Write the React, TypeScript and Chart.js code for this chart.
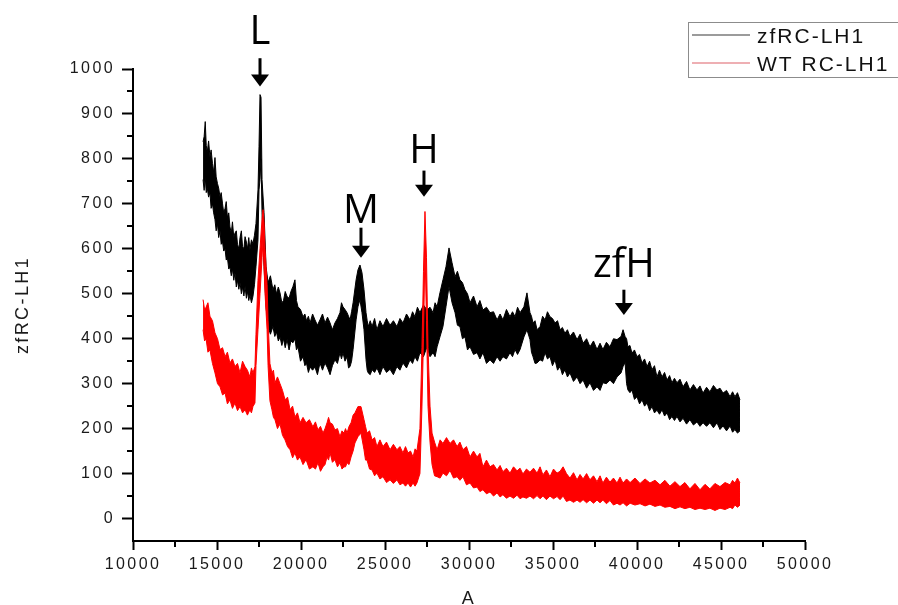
import { useEffect, useRef } from 'react';
import { Chart, registerables } from 'chart.js';

Chart.register(...registerables);

// ---- axis ticks ----
const xTicks = [10000, 15000, 20000, 25000, 30000, 35000, 40000, 45000, 50000];
const xMinorTicks = [12500, 17500, 22500, 27500, 32500, 37500, 42500, 47500];
const yTicks = [0, 100, 200, 300, 400, 500, 600, 700, 800, 900, 1000];
const yMinorTicks = [50, 150, 250, 350, 450, 550, 650, 750, 850, 950];

// ---- legend / titles ----
const seriesLabels = ['zfRC-LH1', 'WT RC-LH1'];
const xTitle = 'A';
const yTitle = 'zfRC-LH1';

// ---- peak annotations ----
const annotationLabels = ['L', 'M', 'H', 'zfH'];
const annotationX = [17560, 23570, 27320, 39220];
const annotationTextY = [1055, 658, 792, 538];
const annotationArrowTop = [1024, 647, 774, 509];
const annotationArrowTip = [961, 580, 716, 453];

// ---- zfRC-LH1 (black): noise band, upper / lower edge ----
const blackX = [
  14170, 14235, 14300, 14360, 14420, 14500, 14580, 14650, 14730, 14800,
  14880, 14950, 15030, 15100, 15180, 15250, 15330, 15400, 15480, 15550,
  15620, 15700, 15770, 15850, 15920, 16000, 16070, 16150, 16220, 16300,
  16370, 16450, 16520, 16600, 16670, 16750, 16820, 16890, 16960, 17050,
  17140, 17230, 17320, 17440, 17500, 17560, 17620, 17680, 17800, 17920,
  18040, 18180, 18330, 18440, 18540, 18650, 18750, 18860, 18960, 19060,
  19170, 19290, 19400, 19520, 19640, 19730, 19820, 19970, 20120, 20230,
  20330, 20440, 20540, 20690, 20830, 20980, 21130, 21280, 21430, 21580,
  21730, 21870, 22020, 22170, 22320, 22410, 22500, 22620, 22740, 22830,
  22920, 23010, 23100, 23280, 23390, 23510, 23630, 23750, 23870, 23940,
  24000, 24120, 24230, 24380, 24520, 24700, 24880, 25090, 25300, 25500,
  25710, 25890, 26070, 26280, 26490, 26640, 26780, 26930, 27080, 27290,
  27500, 27680, 27860, 27980, 28100, 28270, 28450, 28630, 28810, 28990,
  29170, 29310, 29460, 29610, 29760, 29910, 30060, 30270, 30480, 30650,
  30830, 31040, 31250, 31460, 31670, 31850, 32020, 32230, 32440, 32590,
  32740, 32890, 33040, 33270, 33450, 33630, 33720, 33810, 33930, 34050,
  34230, 34380, 34530, 34670, 34820, 34970, 35120, 35270, 35420, 35560,
  35710, 35860, 36010, 36220, 36430, 36610, 36790, 37000, 37200, 37410,
  37620, 37800, 37970, 38180, 38390, 38600, 38810, 39050, 39170, 39290,
  39380, 39460, 39580, 39700, 39850, 40000, 40150, 40300, 40450, 40600,
  40750, 40890, 41040, 41190, 41340, 41490, 41640, 41790, 41940, 42080,
  42230, 42380, 42560, 42740, 42950, 43150, 43360, 43570, 43750, 43930,
  44140, 44340, 44550, 44760, 44940, 45120, 45330, 45540, 45690, 45830,
  45980, 46130,
];
const blackHigh = [
  838, 850, 883, 830, 815, 840, 805, 820, 790, 770,
  803, 760, 745, 735, 715, 725, 700, 680, 690, 705,
  670, 680, 649, 635, 660, 625, 635, 640, 610, 600,
  625, 640, 605, 600, 627, 615, 600, 625, 598, 620,
  611, 630, 656, 731, 827, 943, 937, 754, 680, 560,
  525, 540, 509, 520, 500, 515, 502, 480, 485, 505,
  494, 490, 505, 516, 531, 485, 471, 465, 449, 455,
  440, 450, 435, 455, 442, 430, 442, 455, 435, 448,
  435, 420, 435, 445, 458, 480, 471, 465, 458, 450,
  442, 460, 480, 531, 553, 564, 547, 509, 458, 440,
  427, 440, 427, 445, 420, 440, 427, 445, 430, 440,
  427, 445, 435, 455, 442, 460, 449, 470, 458, 475,
  464, 470, 458, 480, 471, 502, 531, 560, 602, 569,
  538, 550, 531, 525, 509, 500, 480, 495, 471, 485,
  464, 470, 458, 460, 442, 455, 442, 465, 449, 460,
  449, 470, 458, 471, 502, 458, 450, 435, 440, 420,
  427, 450, 442, 460, 449, 445, 435, 440, 420, 425,
  412, 420, 405, 415, 398, 410, 390, 400, 382, 395,
  376, 390, 376, 392, 382, 400, 398, 405, 420, 405,
  400, 382, 385, 368, 375, 360, 365, 346, 355, 338,
  350, 331, 340, 315, 330, 315, 325, 308, 318, 302,
  312, 302, 310, 293, 305, 286, 298, 286, 295, 279,
  292, 282, 296, 286, 290, 279, 285, 271, 282, 271,
  280, 264,
];
const blackLow = [
  754, 730, 760, 725, 735, 715, 725, 690, 700, 680,
  665, 640, 655, 625, 640, 610, 615, 595, 600, 575,
  580, 555, 560, 540, 555, 530, 547, 515, 530, 510,
  525, 500, 515, 495, 516, 490, 505, 485, 497, 480,
  494, 520, 560, 620, 731, 754, 800, 680, 560, 470,
  427, 410, 427, 405, 415, 395, 404, 385, 400, 380,
  398, 375, 395, 391, 400, 375, 382, 350, 360, 340,
  345, 325, 337, 330, 337, 320, 346, 330, 346, 335,
  320, 340, 353, 345, 369, 355, 369, 350, 360, 335,
  338, 350, 376, 442, 471, 487, 458, 420, 353, 330,
  324, 320, 331, 325, 335, 320, 338, 325, 332, 320,
  338, 330, 346, 335, 353, 345, 360, 350, 369, 360,
  382, 360, 369, 360, 382, 404, 427, 471, 516, 480,
  458, 430, 427, 400, 404, 375, 382, 365, 369, 355,
  369, 345, 353, 345, 360, 350, 360, 355, 369, 360,
  376, 365, 376, 404, 420, 398, 370, 360, 345, 346,
  353, 350, 369, 355, 360, 340, 353, 330, 338, 320,
  331, 315, 324, 305, 315, 300, 308, 290, 302, 285,
  293, 285, 302, 300, 308, 300, 315, 324, 338, 347,
  300, 286, 280, 286, 265, 271, 255, 264, 250, 257,
  240, 249, 235, 241, 232, 242, 228, 235, 220, 227,
  218, 227, 215, 223, 210, 220, 208, 215, 205, 213,
  205, 213, 202, 213, 198, 206, 195, 206, 192, 198,
  190, 195,
];

// ---- WT RC-LH1 (red): noise band, upper / lower edge ----
const redX = [
  14170, 14260, 14350, 14460, 14580, 14730, 14880, 15030, 15180, 15330,
  15480, 15620, 15770, 15920, 16070, 16220, 16370, 16520, 16670, 16810,
  16960, 17050, 17140, 17260, 17320, 17440, 17560, 17680, 17740, 17800,
  17860, 17980, 18040, 18150, 18270, 18360, 18450, 18600, 18750, 18900,
  19050, 19200, 19350, 19500, 19640, 19790, 19940, 20120, 20300, 20500,
  20710, 20860, 21010, 21160, 21310, 21430, 21550, 21640, 21730, 21870,
  22020, 22170, 22320, 22440, 22560, 22650, 22740, 22860, 22980, 23100,
  23210, 23390, 23570, 23750, 23840, 23930, 24080, 24230, 24380, 24520,
  24700, 24880, 25090, 25300, 25500, 25710, 25890, 26070, 26220, 26370,
  26520, 26670, 26790, 26900, 27080, 27200, 27290, 27380, 27470, 27560,
  27680, 27800, 27950, 28100, 28280, 28450, 28660, 28870, 29080, 29290,
  29460, 29640, 29850, 30060, 30270, 30480, 30650, 30830, 31040, 31250,
  31460, 31670, 31850, 32020, 32230, 32440, 32650, 32860, 33040, 33210,
  33420, 33630, 33840, 34050, 34230, 34400, 34610, 34820, 35030, 35240,
  35420, 35600, 35800, 36010, 36220, 36430, 36610, 36790, 37000, 37200,
  37410, 37620, 37800, 37970, 38180, 38390, 38600, 38810, 38990, 39170,
  39380, 39590, 39880, 40180, 40480, 40770, 41070, 41370, 41660, 41960,
  42260, 42560, 42850, 43150, 43450, 43750, 44050, 44340, 44640, 44940,
  45240, 45540, 45690, 45830, 45980, 46130,
];
const redHigh = [
  487, 465, 470, 480, 450, 440, 413, 400, 376, 380,
  360, 370, 346, 355, 338, 345, 324, 350, 338, 330,
  315, 335, 324, 338, 410, 530, 600, 665, 687, 660,
  600, 520, 440, 345, 324, 330, 302, 315, 300, 285,
  264, 270, 242, 250, 226, 235, 213, 225, 213, 220,
  204, 215, 197, 205, 190, 200, 213, 225, 213, 210,
  197, 200, 182, 195, 190, 200, 190, 205, 213, 230,
  235, 249, 249, 220, 205, 190, 195, 175, 180, 160,
  175, 160, 170, 153, 165, 153, 160, 146, 160, 146,
  150, 137, 155, 150, 200, 380, 550, 683, 580, 380,
  250, 190, 170, 153, 175, 167, 180, 167, 175, 160,
  170, 153, 160, 137, 150, 137, 145, 115, 130, 115,
  120, 108, 118, 104, 112, 101, 115, 106, 112, 99,
  110, 103, 112, 101, 115, 97, 108, 93, 110, 101,
  105, 115, 100, 90, 102, 86, 98, 88, 100, 86,
  95, 82, 95, 79, 92, 81, 90, 79, 92, 79,
  88, 80, 90, 78, 88, 79, 85, 75, 85, 72,
  82, 71, 80, 66, 78, 64, 76, 66, 78, 71,
  80, 75, 85, 79, 90, 79,
];
const redLow = [
  420, 395, 400, 370, 375, 345, 324, 300, 293, 275,
  279, 255, 264, 245, 257, 240, 249, 235, 242, 230,
  242, 235, 249, 257, 340, 420, 500, 580, 620, 560,
  500, 420, 340, 262, 242, 225, 220, 200, 210, 185,
  175, 160, 153, 135, 146, 130, 137, 120, 131, 110,
  115, 110, 124, 105, 115, 120, 137, 130, 146, 125,
  131, 115, 124, 110, 115, 115, 124, 120, 137, 150,
  168, 182, 190, 153, 130, 130, 110, 108, 95, 101,
  88, 93, 80, 86, 78, 86, 75, 79, 72, 79,
  70, 79, 72, 79, 100, 250, 400, 600, 440, 250,
  170, 120, 95, 93, 90, 101, 95, 107, 90, 93,
  85, 93, 75, 79, 68, 70, 60, 64, 55, 59,
  50, 57, 48, 53, 45, 50, 45, 52, 44, 48,
  45, 50, 44, 51, 44, 50, 42, 50, 44, 49,
  42, 50, 38, 41, 36, 41, 36, 42, 35, 41,
  34, 41, 35, 41, 33, 40, 30, 34, 30, 35,
  28, 34, 30, 33, 28, 32, 27, 30, 25, 27,
  22, 26, 22, 25, 20, 23, 20, 23, 18, 23,
  20, 25, 22, 30, 25, 30,
];

const BLACK = '#000000';
const RED = '#ff0000';
const TICK_FONT = { family: '"Liberation Sans", Arial, sans-serif', size: 16 };

const pts = (xs: number[], ys: number[]) => xs.map((x, i) => ({ x, y: ys[i] }));

const decorPlugin = {
  id: 'decor',
  beforeDraw(chart: any) {
    const ctx = chart.ctx;
    ctx.fillStyle = '#ffffff';
    ctx.fillRect(0, 0, chart.width, chart.height);
    try { ctx.letterSpacing = '2.4px'; } catch (e) { /* ignore */ }
  },
  afterDraw(chart: any) {
    const ctx = chart.ctx;
    const xs = chart.scales.x;
    const ys = chart.scales.y;
    const area = chart.chartArea;
    ctx.save();
    try { ctx.letterSpacing = '0px'; } catch (e) { /* ignore */ }
    // minor ticks
    ctx.strokeStyle = '#000';
    ctx.lineWidth = 2;
    ctx.beginPath();
    xMinorTicks.forEach((v) => {
      const px = Math.round(xs.getPixelForValue(v));
      ctx.moveTo(px, area.bottom);
      ctx.lineTo(px, area.bottom + 6);
    });
    yMinorTicks.forEach((v) => {
      const py = Math.round(ys.getPixelForValue(v));
      ctx.moveTo(area.left, py);
      ctx.lineTo(area.left - 6, py);
    });
    ctx.stroke();

    // peak annotations
    ctx.fillStyle = '#000';
    ctx.strokeStyle = '#000';
    ctx.font = '40px "Open Sans", "Noto Sans", sans-serif';
    ctx.textAlign = 'center';
    ctx.textBaseline = 'alphabetic';
    annotationLabels.forEach((lab, i) => {
      const px = xs.getPixelForValue(annotationX[i]);
      const ty = ys.getPixelForValue(annotationTextY[i]);
      const top = ys.getPixelForValue(annotationArrowTop[i]);
      const tip = ys.getPixelForValue(annotationArrowTip[i]);
      ctx.fillText(lab, px, ty);
      ctx.lineWidth = 3;
      ctx.beginPath();
      ctx.moveTo(px, top);
      ctx.lineTo(px, tip - 10);
      ctx.stroke();
      ctx.beginPath();
      ctx.moveTo(px - 9, tip - 12);
      ctx.lineTo(px + 9, tip - 12);
      ctx.lineTo(px, tip);
      ctx.closePath();
      ctx.fill();
    });

    // legend box
    ctx.lineWidth = 1;
    ctx.strokeStyle = '#8c8c8c';
    ctx.strokeRect(688.5, 22.5, 230, 55);
    const legendColors = ['#7a7a7a', '#e8949a'];
    const legendY = [35, 63];
    ctx.font = '21px "Liberation Sans", Arial, sans-serif';
    try { ctx.letterSpacing = '2px'; } catch (e) { /* ignore */ }
    ctx.textAlign = 'left';
    ctx.textBaseline = 'alphabetic';
    seriesLabels.forEach((lab, i) => {
      ctx.strokeStyle = legendColors[i];
      ctx.lineWidth = 1.5;
      ctx.beginPath();
      ctx.moveTo(692, legendY[i]);
      ctx.lineTo(750, legendY[i]);
      ctx.stroke();
      ctx.fillStyle = '#111';
      ctx.fillText(lab, 757, legendY[i] + 8);
    });
    ctx.restore();
  },
};

export default function App() {
  const ref = useRef<HTMLCanvasElement | null>(null);
  useEffect(() => {
    if (!ref.current) return;
    const chart = new Chart(ref.current, {
      type: 'line',
      data: {
        datasets: [
          { label: seriesLabels[1] + ' low', data: pts(redX, redLow), borderColor: RED, backgroundColor: RED, borderWidth: 1, pointRadius: 0, fill: false },
          { label: seriesLabels[1], data: pts(redX, redHigh), borderColor: RED, backgroundColor: RED, borderWidth: 1, pointRadius: 0, fill: '-1' },
          { label: seriesLabels[0] + ' low', data: pts(blackX, blackLow), borderColor: BLACK, backgroundColor: BLACK, borderWidth: 1, pointRadius: 0, fill: false },
          { label: seriesLabels[0], data: pts(blackX, blackHigh), borderColor: BLACK, backgroundColor: BLACK, borderWidth: 1, pointRadius: 0, fill: '-1' },
        ],
      },
      options: {
        animation: false,
        responsive: false,
        devicePixelRatio: 1,
        events: [],
        layout: { padding: { top: 69, right: 93, left: 0, bottom: 0 } },
        plugins: { legend: { display: false }, tooltip: { enabled: false } },
        scales: {
          x: {
            type: 'linear',
            min: 10000,
            max: 50000,
            afterBuildTicks: (s: any) => { s.ticks = xTicks.map((v) => ({ value: v })); },
            afterFit: (s: any) => { s.height = 64; },
            grid: { drawOnChartArea: false, tickLength: 9, tickWidth: 2, tickColor: '#000' },
            border: { display: true, color: '#000', width: 2 },
            ticks: { color: '#1a1a1a', font: TICK_FONT, padding: 5, maxRotation: 0, autoSkip: false, callback: (v: any) => String(v) },
            title: { display: true, text: xTitle, color: '#1a1a1a', font: { family: '"Liberation Sans", Arial, sans-serif', size: 18, lineHeight: 1 }, padding: { top: 0, bottom: -3 } },
          },
          y: {
            type: 'linear',
            min: -50,
            max: 1000,
            afterBuildTicks: (s: any) => { s.ticks = yTicks.map((v) => ({ value: v })); },
            afterFit: (s: any) => { s.width = 133; },
            grid: { drawOnChartArea: false, tickLength: 11, tickWidth: 2, tickColor: '#000' },
            border: { display: true, color: '#000', width: 2 },
            ticks: { color: '#1a1a1a', font: TICK_FONT, padding: 7, autoSkip: false, callback: (v: any) => String(v) },
            title: { display: true, text: yTitle, color: '#1a1a1a', font: { family: '"Liberation Sans", Arial, sans-serif', size: 18, lineHeight: 1.2 }, padding: { top: 12, bottom: 0 } },
          },
        },
      },
      plugins: [decorPlugin],
    } as any);
    return () => chart.destroy();
  }, []);
  return (
    <div style={{ position: 'fixed', left: 0, top: 0, width: 898, height: 605, background: '#fff' }}>
      <canvas ref={ref} width={898} height={605} style={{ display: 'block', width: 898, height: 605 }} />
    </div>
  );
}
